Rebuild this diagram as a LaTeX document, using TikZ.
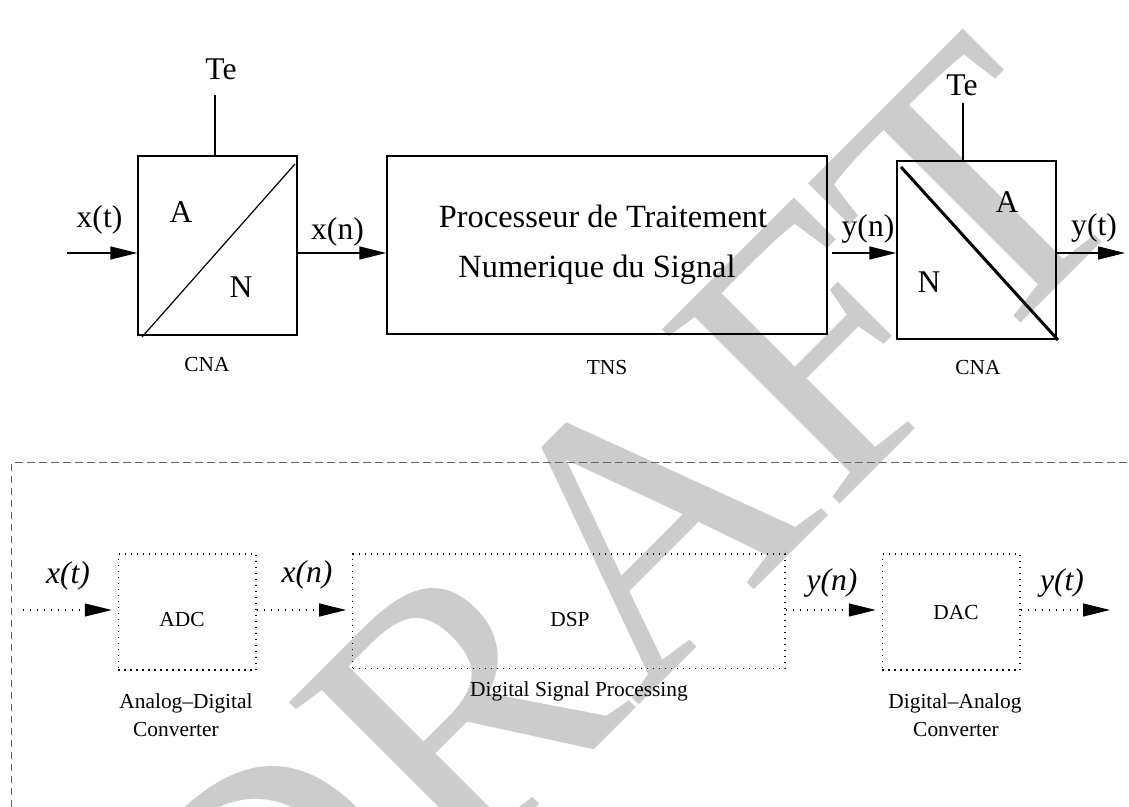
\documentclass[tikz,border=0pt]{standalone}
\usepackage{fontspec}
\setmainfont{Liberation Serif}
\usetikzlibrary{arrows.meta,fit}
\begin{document}
\begin{tikzpicture}[x=0.5pt,y=-0.5pt,
  sbox/.style={draw, line width=0.7pt, inner sep=0pt},
  dbox/.style={draw, line width=0.55pt, inner sep=0pt, dash pattern=on 0.6pt off 2.4pt},
  big/.style={inner sep=0pt, anchor=base, font=\fontsize{15.8}{19}\selectfont},
  proc/.style={inner sep=0pt, anchor=base, font=\fontsize{16.2}{19}\selectfont},
  small/.style={inner sep=0pt, anchor=base, font=\fontsize{10.7}{13}\selectfont},
  arr/.style={line width=0.7pt, -{Triangle[length=13.5pt,width=6.5pt]}},
  darr/.style={line width=0.6pt, dash pattern=on 0.6pt off 2.9pt, -{Triangle[length=13.5pt,width=6.5pt]}, shorten >=3pt},
  frame/.style={draw=black!60, line width=0.6pt, dash pattern=on 3.7pt off 2.3pt}]
\useasboundingbox (0,0) rectangle (1129,807);
% watermark
\begin{scope}
\clip (0,0) rectangle (1129,807);
\node[anchor=base west, rotate=45, inner sep=0pt, text=black!20,
  font=\fontsize{190}{190}\selectfont] (wm) at (263,1081) {DRAFT};
\end{scope}
% ---------- top chain ----------
\node[sbox, fit={(138,156)(297,335)}] (adc1) {};
\node[sbox, fit={(387,156)(827,334)}] (tns) {};
\node[sbox, fit={(897,161)(1056,339)}] (dac1) {};
\draw[line width=0.6pt] (142,337) -- (295,164);
\draw[line width=1.5pt] (901,167) -- (1058,340);
\node[big] (te1) at (221,80) {Te};
\node[big] (a1) at (181,223) {A};
\node[big] (n1) at (241,298) {N};
\node[big] (xt1) at (99.5,228) {x(t)};
\node[big] (xn1) at (337.5,240) {x(n)};
\node[small] (cna1) at (207,371.5) {CNA};
\node[proc] (p1) at (603,228) {Processeur de Traitement};
\node[proc] (p2) at (597,278) {Numerique du Signal};
\node[small] (tnsl) at (607,375) {TNS};
\node[big] (te2) at (962,96) {Te};
\node[big] (a2) at (1007,213) {A};
\node[big] (n2) at (929,293) {N};
\node[big] (yn1) at (868,237) {y(n)};
\node[big] (yt1) at (1094,236) {y(t)};
\node[small] (cna2) at (978,375) {CNA};
\coordinate (tl1) at (215,95);
\coordinate (tl2) at (963,103);
\draw[line width=0.6pt] (tl1) -- (tl1 |- adc1.north);
\draw[line width=0.6pt] (tl2) -- (tl2 |- dac1.north);
\coordinate (in1) at (67,253);
\coordinate (g1) at (832,253);
\coordinate (out1) at (1125,253);
\draw[arr] (in1) -- (in1 -| adc1.west);
\draw[arr] (adc1.east |- in1) -- (tns.west |- in1);
\draw[arr] (g1) -- (dac1.west |- g1);
\draw[arr] (dac1.east |- in1) -- (out1);
% ---------- frame ----------
\draw[frame] (11.7,807) -- (11.7,462.7) -- (1129,462.7);
% ---------- bottom chain ----------
\node[dbox, fit={(118.3,554)(256,670)}] (adc2) {};
\node[dbox, fit={(352.7,554)(785,668.5)}] (dsp) {};
\node[dbox, fit={(882.3,554)(1020,670)}] (dac2) {};
\node[small] (adct) at (182,626) {ADC};
\node[small] (dspt) at (570,626) {DSP};
\node[small] (dact) at (956,619.5) {DAC};
\node[small] (dsplab) at (579,696) {Digital Signal Processing};
\node[small] (adcl1) at (186,708) {Analog–Digital};
\node[small] (adcl2) at (176,736) {Converter};
\node[small] (dacl1) at (955,708) {Digital–Analog};
\node[small] (dacl2) at (956,736) {Converter};
\node[big] (xt2) at (68,583) {\itshape x(t)};
\node[big] (xn2) at (307,582) {\itshape x(n)};
\node[big] (yn2) at (832,590) {\itshape y(n)};
\node[big] (yt2) at (1062,590) {\itshape y(t)};
\coordinate (in2) at (23,610);
\coordinate (out2) at (1116,610);
\draw[darr] (in2) -- (in2 -| adc2.west);
\draw[darr] (adc2.east |- in2) -- (dsp.west |- in2);
\draw[darr] (dsp.east |- in2) -- (dac2.west |- in2);
\draw[darr] (dac2.east |- in2) -- (out2);
\end{tikzpicture}
\end{document}
